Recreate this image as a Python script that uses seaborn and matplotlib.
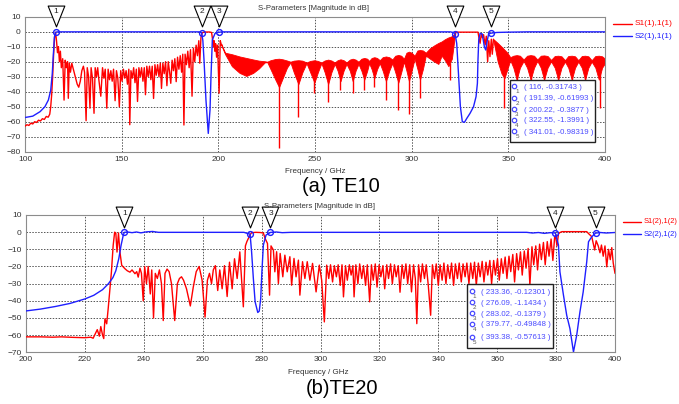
import matplotlib
matplotlib.use('Agg')
import matplotlib.pyplot as plt
import seaborn as sns
import pandas as pd
from matplotlib.lines import Line2D
from matplotlib.patches import Rectangle
from matplotlib.path import Path

sns.set_style('white')
plt.rcParams['font.family'] = ['Liberation Sans', 'DejaVu Sans']

RED = '#ff0000'
BLUE = '#1f1fff'
W, H = 679, 404

# ---------------- (a) TE10 ----------------
te10_s21 = [(100, -57.2), (104, -56.3), (107.8, -53.3), (110.3, -50), (112.1, -45.5), (113.3, -39),
            (114.1, -28), (114.7, -14.5), (115.2, -3.5), (116, -0.32), (117, -0.1), (190, -0.1),
            (191.39, -0.62), (192.0, -6), (192.6, -19), (193.6, -45.5), (194.8, -67.8), (195.7, -52),
            (196.2, -30), (196.9, -5.5), (198.3, -1.1), (200.22, -0.39), (202, -0.1), (320, -0.1),
            (321.5, -0.5), (322.4, -1.1), (323.3, -7.8), (323.8, -18.9), (324.5, -34.4), (325.2, -50),
            (326.2, -60), (327.3, -60.4), (328.5, -57.8), (330.2, -54.4), (332, -50), (333.3, -43.3),
            (334, -34.4), (334.3, -18.9), (334.7, -5.5), (335.4, -1.1), (336.5, -1.5), (337.6, -10),
            (338.3, -12.2), (339, -6.6), (339.8, -1.5), (341.01, -0.98), (344, -0.5), (350, -0.3),
            (360, -0.1), (400, -0.1)]

te10_s11_low = [(100, -63), (101, -62), (102, -62.5), (103, -61), (104, -61.5), (105, -60), (106, -60.5),
                (107, -59), (108, -59.5), (109, -58), (110, -58.5), (111, -56.5), (112, -57), (112.8, -55),
                (113.3, -50), (113.8, -42), (114.3, -30), (114.8, -15), (115.3, -4), (115.8, -0.4),
                (116.3, -6), (116.8, -14), (117.3, -10), (117.8, -20), (118.3, -13), (118.8, -24),
                (119.5, -18), (120.2, -45.6), (120.8, -19), (121.4, -24), (122.0, -20), (122.4, -44.4),
                (122.9, -21), (123.5, -27), (124.2, -21), (125, -25), (126, -30), (127, -35), (127.8, -37),
                (128.6, -33), (129.4, -26), (130.2, -23), (130.8, -27), (131.6, -59.3), (132.2, -24),
                (132.9, -30), (133.6, -51), (134.2, -24), (134.9, -31), (135.7, -54.4), (136.3, -24),
                (137, -30), (137.6, -24), (138.2, -32), (139.2, -43), (140.1, -24), (140.8, -31),
                (141.5, -25), (142.3, -51), (143, -25), (143.7, -32), (144.4, -26), (145.1, -33),
                (145.8, -25), (146.6, -46), (147.3, -26), (148, -31), (148.8, -50), (149.5, -26),
                (150.2, -33), (150.9, -25), (151.6, -31), (152.3, -26), (153, -35), (153.7, -25),
                (154.2, -62), (154.8, -26), (155.5, -31), (156.2, -24), (156.9, -34), (157.6, -25),
                (158.2, -46.5), (158.9, -24), (159.6, -30), (160.3, -24), (161, -33), (161.7, -24),
                (162.3, -42), (163, -23), (163.7, -30), (164.4, -23), (165.1, -32), (165.8, -23),
                (166.5, -44.5), (167.2, -22), (167.9, -29), (168.6, -22), (169.3, -30), (170, -21),
                (170.6, -37.8), (171.3, -21), (172, -28), (172.7, -20), (173.4, -36), (174.1, -20),
                (174.8, -27), (175.4, -34.4), (176.1, -19), (176.8, -26), (177.5, -18), (178.2, -33.3),
                (178.9, -17), (179.6, -25), (180.3, -16), (181, -27), (181.6, -15), (182.2, -62.2),
                (182.8, -15), (183.5, -22), (184.2, -13), (184.9, -24), (185.6, -12), (186.4, -43),
                (187.1, -11), (187.8, -20), (188.5, -9), (189.2, -16), (189.9, -6), (190.4, -21),
                (191.0, -4), (191.6, -0.8), (192.5, -0.3), (194, -0.2), (195.5, -0.2), (196.5, -0.5),
                (197, -5), (197.4, -10), (197.8, -6), (198.2, -13), (198.6, -8), (199.1, -17),
                (199.6, -9), (200.4, -41), (201, -6), (201.6, -9)]

te10_s11_stop = [(322.4, -1.2), (323, -0.3), (334.3, -0.3), (334.8, -4), (335.4, -7.7), (336, -1.5),
                 (336.6, -4), (337.2, -2), (338, -8.8), (338.6, -3), (339.3, -20), (339.9, -6),
                 (340.5, -16.6), (341.2, -5), (341.7, -15), (342.3, -5)]

# (f, upper edge, lower edge) of the densely rippled S11 bands
te10_band_a = [(201.5, -8, -9), (203.5, -14, -15), (207, -15, -23), (211, -16.5, -27.5), (214.5, -17.5, -29.5),
               (218, -18.5, -27.5), (221, -19.3, -24.5), (224, -19.7, -20.5), (225.3, -20, -20.3),
               (227, -19, -25), (229.5, -18.2, -32), (231.4, -18, -37), (233.3, -18.4, -31),
               (235.5, -19.2, -24), (237.3, -20, -20.5), (239, -19.3, -27), (241.4, -19, -35),
               (243.5, -19.3, -27), (245.6, -20.5, -21), (247.5, -19.5, -27), (249.7, -19, -34),
               (251.5, -19.5, -27), (253.3, -20.5, -21), (255, -19.2, -27), (256.8, -18.6, -35),
               (258.5, -19.2, -27), (260.2, -20.5, -21.5), (261.7, -19, -26), (263.2, -18.4, -33),
               (264.8, -19, -26), (266.3, -20.5, -21.5), (268, -18.6, -26), (269.5, -18, -33),
               (271, -18.6, -26), (272.5, -20, -21.5), (274, -18, -26), (275.5, -17.5, -32),
               (277, -18, -26), (278, -19.5, -21), (279.3, -17.5, -25), (280.7, -17, -31),
               (282.1, -17.5, -25), (283.5, -19, -21), (285, -17, -26), (286.7, -16.5, -33),
               (288.4, -17, -26), (290, -18.5, -21), (291.5, -16, -27), (293.1, -15.5, -34),
               (294.6, -16, -27), (296, -18, -20), (297.3, -14, -26), (298.6, -13.3, -33),
               (300, -14, -26), (301.5, -16, -18), (303, -12.5, -25), (304.3, -12.2, -32),
               (305.8, -12.5, -25), (307.3, -14, -16), (309.5, -11, -18), (311.8, -9, -20),
               (313.8, -7.5, -21.5), (315.5, -6.5, -16), (317.2, -5, -19), (319, -3.8, -23),
               (320.8, -3, -18), (322, -1.5, -6), (322.6, -0.5, -1)]

te10_band_b = [(342.3, -5, -6), (344.5, -7.5, -20), (346.5, -10, -28), (348, -12, -31), (349.5, -14, -25),
               (351, -17, -19), (352.6, -16, -24), (354.3, -15.6, -32), (356, -16, -24), (357.9, -18.5, -19.5),
               (359.7, -16, -24), (361.5, -15.6, -32), (363.3, -16, -24), (365, -18.5, -19.5),
               (366.8, -16, -24), (368.5, -15.8, -32), (370.3, -16.2, -24), (372.1, -18.8, -19.8),
               (374, -16.2, -24), (375.8, -16, -32), (377.5, -16.4, -24), (379.3, -19, -20),
               (381, -16.2, -24), (382.8, -16, -32), (384.5, -16.4, -24), (386.2, -19, -20),
               (388, -16.2, -24), (389.7, -16, -32), (391.4, -16.4, -24), (393.1, -19, -20),
               (395, -16.2, -24), (396.8, -16, -32), (398.5, -16.4, -24), (400, -18, -21)]

te10_spike_f = [231.4, 241.4, 249.7, 256.7, 263.1, 269.5, 275.5, 280.6, 286.6, 293.1, 298.5, 304.3,
                319.9, 348.0, 354.3, 361.5, 368.5, 375.8, 382.8, 389.7, 397.4]
te10_spike_db = [-77.5, -56.6, -41.0, -46.6, -39.0, -41.0, -39.0, -36.6, -45.5, -52.2, -55.0, -44.4,
                 -32.0, -51.0, -40, -40, -40, -40, -40, -40, -51.0]

te10_mk_f = [116, 191.39, 200.22, 322.55, 341.01]
te10_mk_db = [-0.31743, -0.61993, -0.3877, -1.3991, -0.98319]
te10_mk_txt = ['116, -0.31743', '191.39, -0.61993', '200.22, -0.3877', '322.55, -1.3991', '341.01, -0.98319']

# ---------------- (b) TE20 ----------------
te20_s21 = [(200, -45.9), (205, -44.8), (210, -43.3), (215, -41.5), (220, -38.9), (223, -36.8), (226, -33.5),
            (228, -30), (229.5, -26.5), (230.5, -22.5), (231.5, -15.5), (232.3, -7.5), (233, -2),
            (233.36, -0.12), (234.5, 0.1), (236, -0.3), (237.5, 0.1), (239, -0.4), (241, 0.2), (243, 0.4),
            (245, -0.1), (274, -0.1), (274.9, -0.6), (276.09, -1.14), (276.6, -11.4), (277.2, -27),
            (277.8, -40.6), (278.7, -46.8), (279.2, -46), (279.7, -38.7), (280.1, -23.1), (280.6, -7.5),
            (281.5, -1.7), (283.02, -0.14), (285, 0.1), (287, -0.3), (290, -0.1), (370, -0.1), (372, -0.5),
            (374, -0.2), (376, -0.7), (378, -0.3), (379.77, -0.5), (380.8, -7.5), (381.3, -23.1),
            (382.5, -36.7), (383.6, -48.4), (384.7, -56.2), (385.9, -69.8), (387, -60), (388.1, -46.4),
            (389.2, -34.8), (390.4, -17.3), (391, -5.6), (392.1, -2.7), (393.38, -0.58), (395, -0.2),
            (397, -0.5), (400, -0.2)]

te20_s11 = [(200, -61), (205, -61), (209, -61.2), (212, -61), (216, -61.3), (220, -61.5), (222, -61.2),
            (222.8, -61.8), (223.4, -59.6), (224.2, -56.8), (224.9, -60.6), (225.4, -55), (226, -60),
            (226.4, -62), (226.8, -50.5), (227.4, -53.4), (227.9, -44.7), (228.5, -33), (229, -23.3),
            (229.6, -7.7), (230.1, 0), (230.5, -0.5), (230.9, -11.6), (231.4, -0.5), (231.9, -11.6),
            (232.5, -19.3), (233.6, -21.3), (234.4, -22.5), (235.3, -23.3), (236, -22), (237, -24.2),
            (237.6, -23), (238.1, -26.2), (238.7, -21), (239.2, -24), (239.8, -40), (240.3, -20),
            (240.9, -30), (241.5, -20), (242.2, -36), (242.7, -22), (243.3, -50), (243.9, -24),
            (244.6, -27), (245.3, -22), (246, -30), (246.6, -51.5), (247.2, -24), (247.9, -21.5),
            (248.6, -23), (249.4, -30), (250.5, -51.5), (251.4, -30), (252.1, -27), (252.8, -26),
            (253.5, -28), (254.5, -33), (255.8, -43), (256.8, -32), (257.8, -23), (258.8, -20),
            (259.8, -28), (260.8, -49.5), (261.6, -28), (262.3, -24), (263, -30), (263.6, -22),
            (264.3, -19.5), (265.1, -34), (265.8, -22), (266.6, -33), (267.4, -19.5), (268.3, -37.5),
            (269.1, -17.5), (270, -33), (270.8, -15.5), (271.7, -27), (272.6, -11.5), (273.8, -43.5),
            (274.5, -8), (275, -5.5), (275.5, -3.7), (276.1, -1.5), (276.6, -0.3), (278, -0.1),
            (279.5, -0.2), (280.6, -0.5), (281.2, -3.7), (282, -6.6), (282.7, -36.7), (283.2, -8),
            (284, -10.4), (284.5, -23.1), (285.1, -11.4), (285.7, -29.9), (286.3, -12.4), (287.2, -26),
            (287.9, -13.4), (288.7, -23.1), (289.6, -14.3), (290.2, -30.9), (291, -15.3), (291.7, -26),
            (292.5, -16.3), (293, -36.7), (293.9, -17.2), (294.7, -27), (295.5, -17.2), (296.4, -28),
            (297.3, -18.2), (298.5, -34.8), (299.6, -19.2), (300.4, -28), (301.3, -52.3), (302.1, -19.2),
            (302.8, -27), (303.4, -19), (304.1, -29), (304.7, -19.5), (305.4, -26), (306, -19),
            (306.7, -31), (307.3, -19), (307.8, -37.7), (308.5, -19.5), (309.1, -28), (309.8, -19),
            (310.4, -25), (311, -19.5), (311.4, -37.7), (312, -19), (312.7, -30), (313.3, -18.5),
            (314, -27), (314.6, -19.5), (315.3, -31), (315.9, -19), (316.7, -40.6), (317.3, -19),
            (317.9, -28), (318.6, -18.5), (319.2, -32), (319.9, -19), (320.5, -26), (321.2, -19.5),
            (321.8, -33), (322.5, -19), (323.1, -27), (323.8, -18.5), (324.4, -30), (325.1, -19),
            (325.7, -26), (326.4, -19.5), (327, -35), (327.7, -19), (328.3, -27), (329, -18.5),
            (329.6, -30), (330.3, -19), (330.9, -34.8), (331.6, -19), (332.2, -27), (332.7, -53.3),
            (333.3, -19), (334, -29), (334.6, -18.5), (335.3, -27), (335.9, -19), (336.6, -31),
            (337.4, -48.4), (338, -19), (338.7, -27), (339.3, -18.5), (340, -31), (340.6, -19),
            (341.3, -28), (341.9, -18), (342.6, -30), (343.2, -19), (343.9, -27), (344.5, -18),
            (345.2, -31), (345.8, -18.5), (346.5, -27), (347.1, -18), (347.8, -29), (348.4, -18.5),
            (349.1, -26), (349.7, -18), (350.4, -30), (351, -18), (351.7, -27), (352.3, -17.5),
            (352.9, -31), (353.6, -18), (354.2, -26), (354.9, -17), (355.5, -29), (356.2, -17.5),
            (356.8, -25), (357.5, -16.5), (358.1, -30), (358.8, -16.5), (359.4, -25), (360.1, -15.5),
            (360.7, -28), (361.4, -15.5), (362, -24), (362.7, -14.5), (363.3, -27), (364, -14),
            (364.6, -23), (365.3, -13), (365.9, -29), (366.6, -12.5), (367.2, -22), (367.9, -11.5),
            (368.5, -25), (369.2, -11), (369.8, -21), (370.5, -9.5), (371.1, -31), (371.8, -8.5),
            (372.4, -19), (373.1, -8), (373.7, -22), (374.4, -7), (375, -16), (375.7, -6),
            (376.3, -19), (377, -5.5), (377.6, -14), (378.3, -4), (378.9, -16.5), (379.5, -3),
            (379.8, -2), (380.3, -8), (380.8, -1), (381.3, -0.2), (382, 0.3), (390.4, 0.3),
            (391, -0.8), (392.1, -2.6), (392.6, -6.5), (393.1, -10.4), (393.6, -5), (394.3, -8),
            (394.9, -12), (395.4, -7.5), (396, -14), (396.6, -8), (397.2, -20.2), (397.8, -10),
            (398.4, -16), (398.9, -9), (399.4, -18), (400, -24)]

te20_mk_f = [233.36, 276.09, 283.02, 379.77, 393.38]
te20_mk_db = [-0.12301, -1.1434, -0.1379, -0.49848, -0.57613]
te20_mk_txt = ['233.36, -0.12301', '276.09, -1.1434', '283.02, -0.1379', '379.77, -0.49848', '393.38, -0.57613']


def fx(px):
    return px / W


def fy(py):
    return 1 - py / H


def line(ax, pts, color, lw=1.0):
    df = pd.DataFrame(pts, columns=['f', 'db'])
    sns.lineplot(data=df, x='f', y='db', color=color, lw=lw, sort=False,
                 estimator=None, ax=ax, legend=False, zorder=3)


def band(ax, rows):
    df = pd.DataFrame(rows, columns=['f', 'top', 'bot'])
    ax.fill_between(df['f'], df['top'], df['bot'], color=RED, lw=0.6, zorder=2)


def style(ax, xticks, yticks, xlim, ylim):
    ax.set_xlim(*xlim)
    ax.set_ylim(*ylim)
    ax.set_xticks(xticks)
    ax.set_yticks(yticks)
    ax.grid(True, ls=(0, (1.5, 1.5)), color='#555555', lw=0.7)
    ax.tick_params(length=0, labelsize=6, colors='#333333', pad=3)
    ax.set_xlabel('')
    ax.set_ylabel('')
    for s in ax.spines.values():
        s.set_color('#8c8c8c')
        s.set_linewidth(0.8)


# downward pointing flag, a bit taller than wide
tri = Path([(-0.4, 0.5), (0.4, 0.5), (0.0, -0.5), (-0.4, 0.5)],
           [Path.MOVETO, Path.LINETO, Path.LINETO, Path.CLOSEPOLY])


def flags(ax, mk_f, mk_db, tri_y, num_dy):
    ax.plot(mk_f, mk_db, 'o', mfc='none', mec=BLUE, ms=4.2, mew=1.0, zorder=5)
    ax.plot(mk_f, [tri_y] * len(mk_f), ls='none', marker=tri, ms=15, mfc='white', mec='black',
            mew=0.8, clip_on=False, zorder=6)
    for i, f in enumerate(mk_f):
        ax.text(f, tri_y + num_dy, str(i + 1), ha='center', va='center', fontsize=6,
                color='#222222', clip_on=False, zorder=7)


def readout(fig, box, rows_y, txt_x, icon_x, texts):
    l, t, r, b = box
    fig.add_artist(Rectangle((fx(l), fy(b)), fx(r - l), (b - t) / H, transform=fig.transFigure,
                             facecolor='white', edgecolor='#222222', lw=1.0, zorder=8))
    for i, (yy, tx) in enumerate(zip(rows_y, texts)):
        fig.text(fx(txt_x), fy(yy), '( ' + tx + ' )', color='#4a4aff', fontsize=5.7,
                 va='center', ha='left', zorder=9)
        fig.add_artist(Line2D([fx(icon_x)], [fy(yy - 1)], marker='o', ms=3.2, mfc='none', mec='#4a4aff',
                              mew=0.9, transform=fig.transFigure, zorder=9))
        fig.text(fx(icon_x + 3), fy(yy + 4.5), str(i + 1), color='#555555', fontsize=4.5,
                 va='center', ha='center', zorder=9)


def legend(fig, y1, y2, x0, x1, labels, size):
    for yy, col, lab in zip((y1, y2), (RED, BLUE), labels):
        fig.add_artist(Line2D([fx(x0), fx(x1)], [fy(yy)] * 2, color=col, lw=1.0, transform=fig.transFigure))
        fig.text(fx(x1 + 2.5), fy(yy), lab, color=col, fontsize=size, va='center', ha='left')


fig = plt.figure(figsize=(W / 100, H / 100), dpi=100)

# top panel
ax1 = fig.add_axes([fx(25), fy(151.7), fx(580), (151.7 - 16.7) / H])
band(ax1, te10_band_a)
band(ax1, te10_band_b)
ax1.vlines(te10_spike_f, -21, te10_spike_db, color=RED, lw=1.0, zorder=2)
line(ax1, te10_s11_low, RED)
line(ax1, te10_s11_stop, RED)
line(ax1, te10_s21, BLUE)
style(ax1, range(100, 401, 50), range(-80, 11, 10), (100, 400), (-80, 10))
flags(ax1, te10_mk_f, te10_mk_db, 10.6, 2.6)

fig.text(fx(313), fy(8.5), 'S-Parameters [Magnitude in dB]', fontsize=5.6, color='#333333',
         ha='center', va='center')
fig.text(fx(315), fy(172), 'Frequency / GHz', fontsize=5.8, color='#333333', ha='center', va='center')
fig.text(fx(341), fy(187), '(a) TE10', fontsize=14.5, color='black', ha='center', va='center')
legend(fig, 23.7, 36, 613, 632, ['S1(1),1(1)', 'S2(1),1(1)'], 6.0)
readout(fig, (510, 80, 595, 142), [87.3, 99, 110, 121, 132], 524, 514, te10_mk_txt)

# bottom panel
ax2 = fig.add_axes([fx(26), fy(352.3), fx(589), (352.3 - 215) / H])
line(ax2, te20_s11, RED)
line(ax2, te20_s21, BLUE)
style(ax2, range(200, 401, 20), range(-70, 11, 10), (200, 400), (-70, 10))
flags(ax2, te20_mk_f, te20_mk_db, 8.8, 2.3)

fig.text(fx(319), fy(207), 'S-Parameters [Magnitude in dB]', fontsize=5.6, color='#333333',
         ha='center', va='center')
fig.text(fx(318), fy(373), 'Frequency / GHz', fontsize=5.8, color='#333333', ha='center', va='center')
fig.text(fx(342), fy(389), '(b)TE20', fontsize=14.5, color='black', ha='center', va='center')
legend(fig, 221.7, 234.3, 623, 641, ['S1(2),1(2)', 'S2(2),1(2)'], 5.4)
readout(fig, (467, 284, 553, 348), [292.3, 303.3, 314, 325, 337.7], 481, 471.5, te20_mk_txt)

fig.savefig('out.png', dpi=100)
